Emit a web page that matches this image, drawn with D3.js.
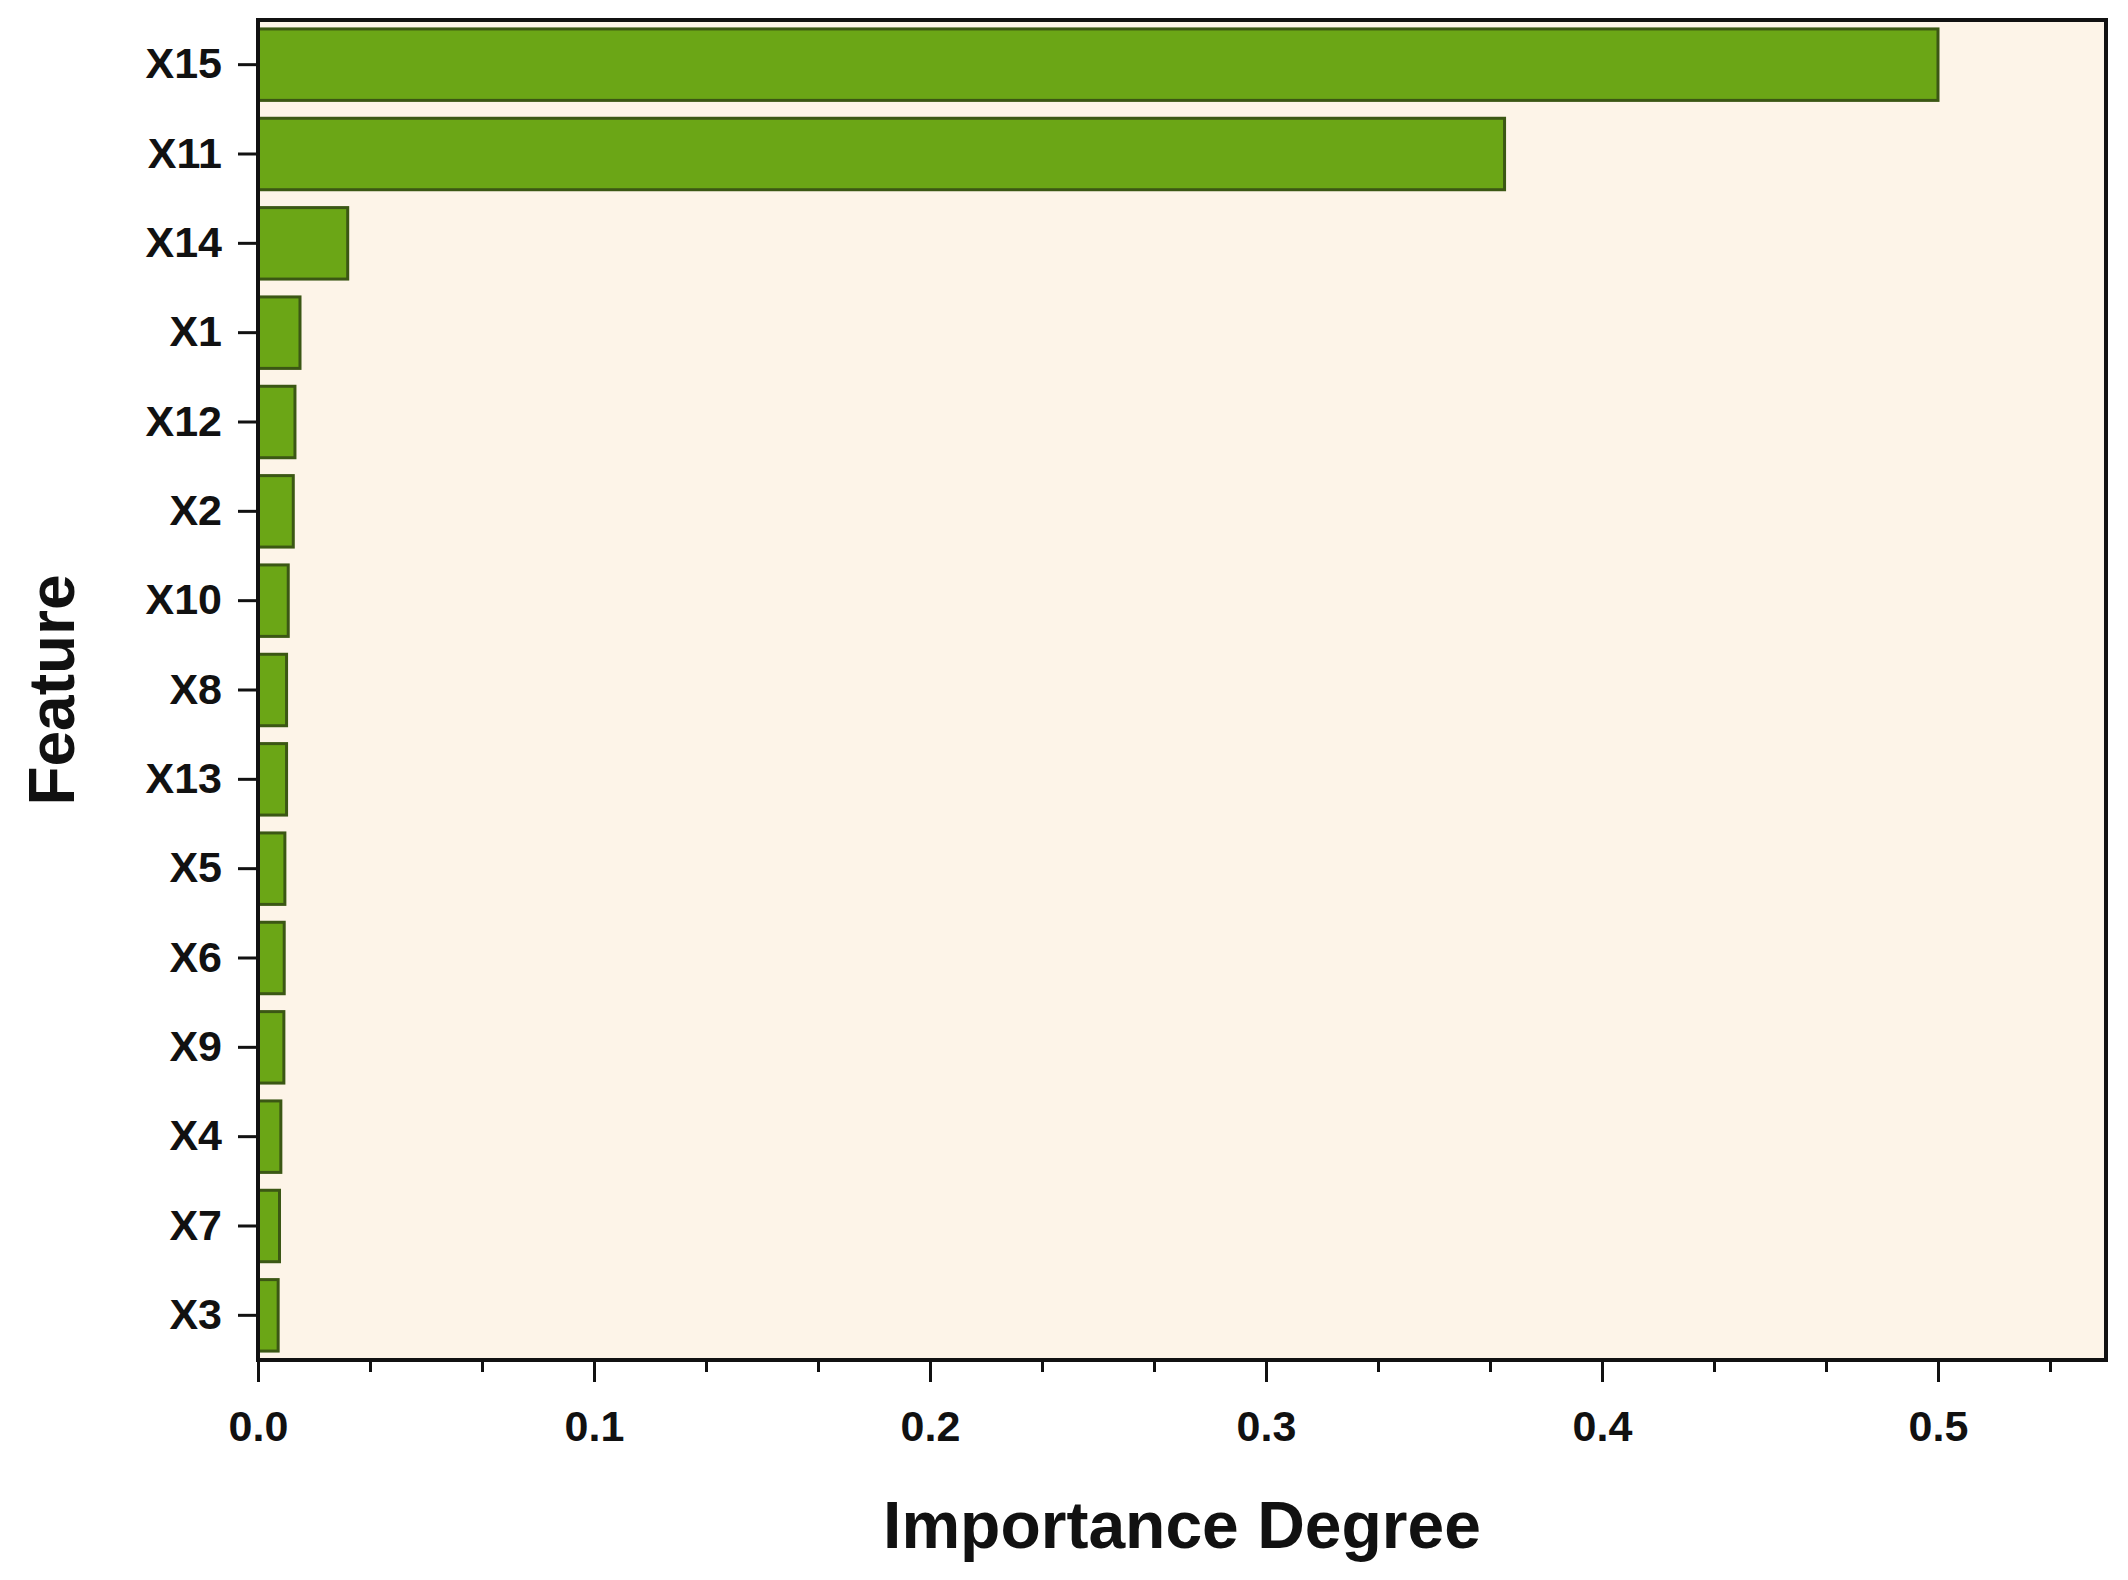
<!DOCTYPE html>
<html><head><meta charset="utf-8">
<script src="https://cdn.jsdelivr.net/npm/d3@7"></script>
<style>body{margin:0;background:#fff}text{font-family:"Liberation Sans",Arial,sans-serif;font-weight:bold}</style>
</head><body><svg id="c" width="2128" height="1580"></svg>
<script>
var features = ['X15','X11','X14','X1','X12','X2','X10','X8','X13','X5','X6','X9','X4','X7','X3'];
var importance = [0.5,0.371,0.0267,0.0125,0.011,0.0105,0.009,0.0085,0.0085,0.008,0.0078,0.0077,0.0068,0.0064,0.006];
var xTicks = [0,0.1,0.2,0.3,0.4,0.5];

var m = {l:258, r:22, t:20, b:220};
var W = 2128, H = 1580;
var svg = d3.select("#c");
var x = d3.scaleLinear().domain([0,0.55]).range([m.l, W-m.r]);
var y = d3.scaleBand().domain(features).range([m.t, H-m.b]).paddingInner(0.2).paddingOuter(0.1);

svg.append("rect").attr("x", m.l).attr("y", m.t).attr("width", W-m.r-m.l).attr("height", H-m.b-m.t)
  .attr("fill", "#fdf4e8");

svg.selectAll(".bar").data(importance).enter().append("rect")
  .attr("x", x(0)).attr("y", function(d,i){ return y(features[i]); })
  .attr("width", function(d){ return x(d)-x(0); }).attr("height", y.bandwidth())
  .attr("fill", "#6ba616").attr("stroke", "#3b5714").attr("stroke-width", 3);

svg.append("rect").attr("x", m.l).attr("y", m.t).attr("width", W-m.r-m.l).attr("height", H-m.b-m.t)
  .attr("fill", "none").attr("stroke", "#111").attr("stroke-width", 4);

var minor = d3.range(0, 0.551, 0.1/3);
svg.append("g").attr("transform", "translate(0," + (H-m.b) + ")")
  .call(d3.axisBottom(x).tickValues(minor).tickSize(12).tickFormat(""))
  .call(function(g){ g.select(".domain").remove(); g.selectAll("line").attr("stroke","#111").attr("stroke-width",3); });
var xa = svg.append("g").attr("transform", "translate(0," + (H-m.b) + ")")
  .call(d3.axisBottom(x).tickValues(xTicks).tickSize(22).tickPadding(28).tickFormat(d3.format(".1f")));
xa.select(".domain").remove();
xa.selectAll("line").attr("stroke","#111").attr("stroke-width",3);
xa.selectAll("text").attr("font-size", 43).attr("fill","#111");

var ya = svg.append("g").attr("transform", "translate(" + m.l + ",0)")
  .call(d3.axisLeft(y).tickSize(20).tickPadding(16));
ya.select(".domain").remove();
ya.selectAll("line").attr("stroke","#111").attr("stroke-width",3);
ya.selectAll("text").attr("font-size", 43).attr("fill","#111");

svg.append("text").attr("x", 1182).attr("y", 1548).attr("text-anchor","middle")
  .attr("font-size", 66).attr("fill","#111").text("Importance Degree");
svg.append("text").attr("transform", "translate(74," + ((m.t + H-m.b)/2) + ") rotate(-90)")
  .attr("text-anchor","middle").attr("font-size", 64).attr("fill","#111").text("Feature");
</script></body></html>
